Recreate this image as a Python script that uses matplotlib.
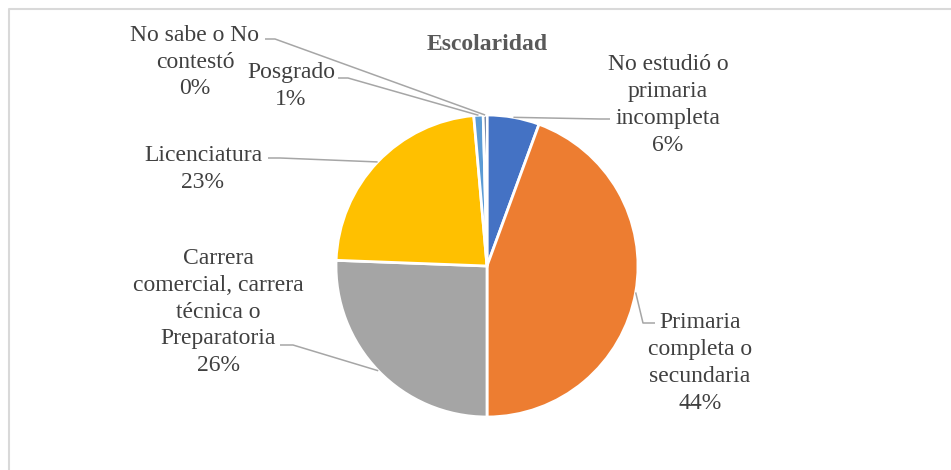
import numpy as np
import matplotlib
matplotlib.use("Agg")
import matplotlib.pyplot as plt

# data
categorias = ["No estudió o\nprimaria\nincompleta",
              "Primaria\ncompleta o\nsecundaria",
              "Carrera\ncomercial, carrera\ntécnica o\nPreparatoria",
              "Licenciatura",
              "Posgrado",
              "No sabe o No\ncontestó"]
valores = [5.6, 44.4, 25.6, 23.0, 1.0, 0.4]
colores = ["#4472C4", "#ED7D31", "#A5A5A5", "#FFC000", "#5B9BD5", "#264478"]

# label layout (pixel positions, y measured from top)
label_pos = [(668, 105), (700, 363), (218, 312), (203, 169), (291, 86), (195, 62)]
label_elbow = [(600, 119), (643, 323), (293, 345), (280, 158), (348, 78), (275, 39)]
label_end = [(610, 119), (655, 323), (280, 345), (268, 158), (338, 78), (265, 39)]

W, H = 951, 470
cx, cy, r = 487, 266, 151

plt.rcParams["font.family"] = ["Liberation Serif", "DejaVu Serif"]
fig = plt.figure(figsize=(W / 100, H / 100), dpi=100)
ax = fig.add_axes([0, 0, 1, 1])
ax.set_aspect("equal")

wedges, _ = ax.pie(valores, colors=colores, startangle=90, counterclock=False,
                   center=(cx, H - cy), radius=r, frame=True,
                   wedgeprops=dict(edgecolor="white", linewidth=2))
ax.set_xlim(0, W)
ax.set_ylim(0, H)
ax.axis("off")

total = sum(valores)
for w, cat, v, pos, elb, end in zip(wedges, categorias, valores, label_pos, label_elbow, label_end):
    mid = np.deg2rad((w.theta1 + w.theta2) / 2)
    sx = cx + r * np.cos(mid)
    sy = (H - cy) + r * np.sin(mid)
    ax.plot([sx, elb[0], end[0]], [sy, H - elb[1], H - end[1]],
            color="#A6A6A6", lw=1.1, solid_capstyle="butt")
    ax.text(pos[0], H - pos[1], f"{cat}\n{v / total * 100:.0f}%",
            ha="center", va="center", multialignment="center",
            fontsize=17, color="#404040", linespacing=1.36)

ax.text(487, H - 44, "Escolaridad", ha="center", va="center",
        fontsize=17, fontweight="bold", color="#595959")

# light frame along top and left
ax.plot([8.5, 8.5, W], [0, H - 8.5, H - 8.5], color="#D9D9D9", lw=1.5,
        clip_on=False)

fig.savefig("out.png", dpi=100)
